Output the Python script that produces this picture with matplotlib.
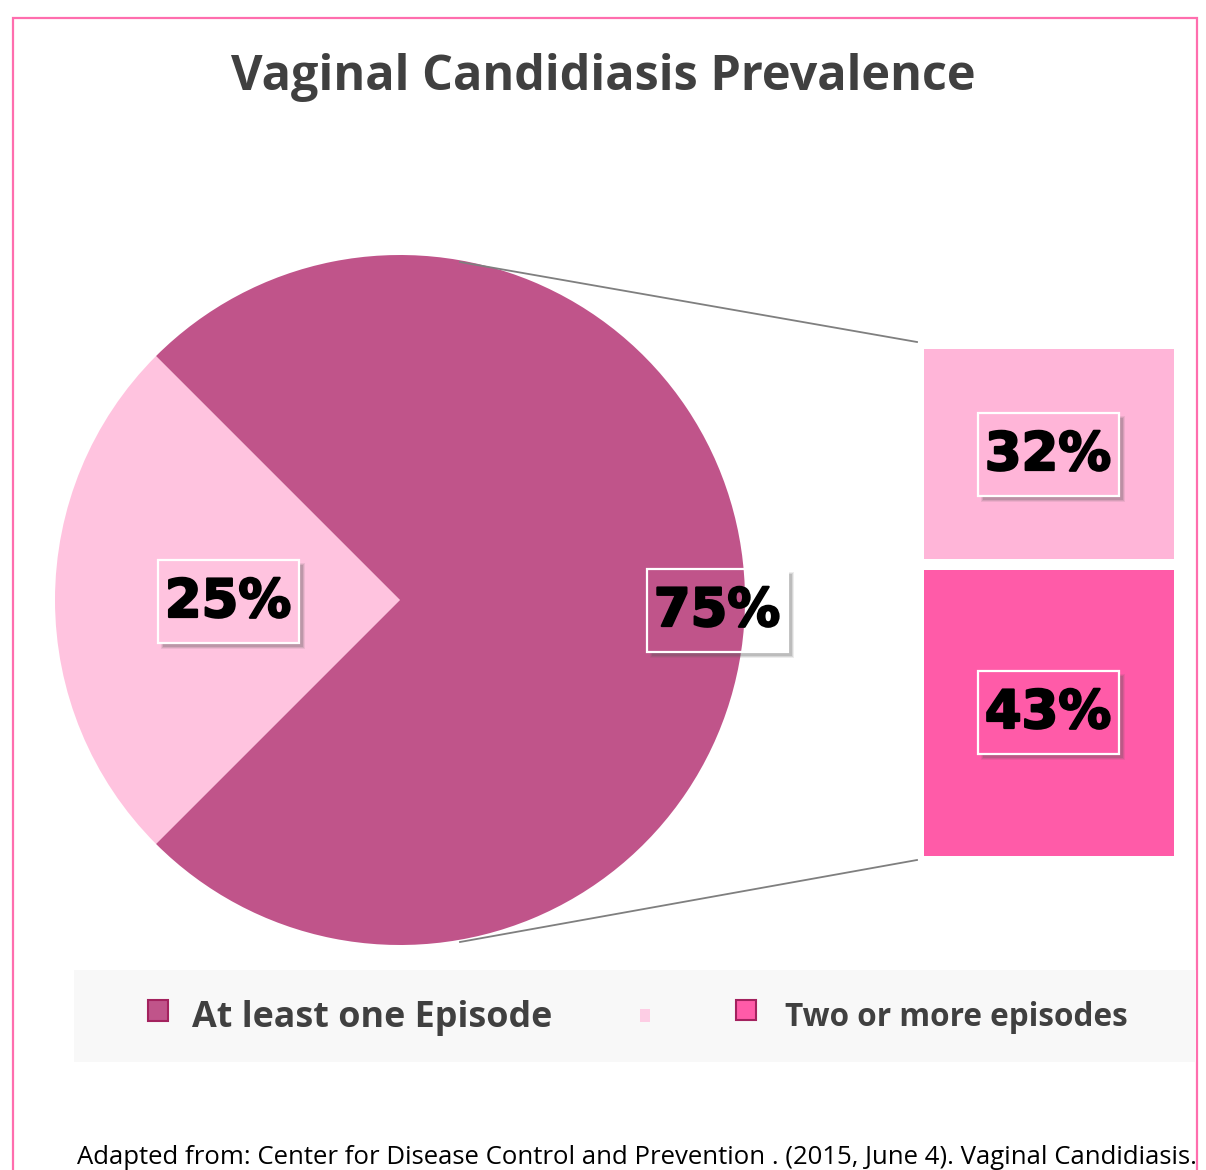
import matplotlib.pyplot as plt
from matplotlib.patches import Rectangle, Wedge
from matplotlib.lines import Line2D
import matplotlib.patheffects as pe

# data
pie_labels = ['Two or more episodes', 'At least one Episode']
pie_values = [25, 75]
bar_labels = ['Two or more episodes (top)', 'Two or more episodes (bottom)']
bar_values = [43, 32]   # bottom segment first
pie_colors = ['#FFC3DF', '#C0548A']
bar_colors = ['#FF5BA8', '#FFB5D8']
title = 'Vaginal Candidiasis Prevalence'
source = 'Adapted from: Center for Disease Control and Prevention . (2015, June 4). Vaginal Candidiasis.'

W, H = 1206, 1170
fig = plt.figure(figsize=(W / 100, H / 100), dpi=100)


def fx(x):
    return x / W


def fy(y):
    return 1 - y / H


# pink border
fig.patches.append(Rectangle((fx(13), fy(1200)), fx(1197) - fx(13), fy(18) - fy(1200),
                             transform=fig.transFigure, fill=False, ec='#FF6EAE', lw=1.6))

fig.text(0.5, fy(78), title, ha='center', va='center', fontsize=35,
         fontweight='bold', color='#404040', family='Open Sans')

# pie
R = 345
pax = fig.add_axes([fx(400 - R), fy(600 + R), 2 * R / W, 2 * R / H])
wedges, _ = pax.pie(pie_values, colors=pie_colors, startangle=135, radius=1)
pax.set_xlim(-1, 1)
pax.set_ylim(-1, 1)
pax.set_aspect('auto')
pax.axis('off')

# bar of pie
gap = 11
bax = fig.add_axes([fx(923 - gap / 2), fy(855 + gap / 2), (250 + gap) / W, (507 + gap) / H])
bottoms = [0, bar_values[0]]
bars = bax.bar([0, 0], bar_values, bottom=bottoms, width=1, color=bar_colors,
               edgecolor='white', linewidth=gap * 0.72)
bax.set_xlim(-0.5, 0.5)
bax.set_ylim(0, sum(bar_values))
bax.axis('off')

# connector lines
for py, by in [(262, 342), (942, 860)]:
    fig.add_artist(Line2D([fx(460), fx(917)], [fy(py), fy(by)], transform=fig.transFigure,
                          color='#7F7F7F', lw=1.3))


def label_box(cx, cy, text, fill, redraw=None):
    # cx, cy in pixels from top-left
    bw, bh = 141, 83
    x0, y0 = cx - bw / 2, cy + bh / 2
    for k, a in [(7, 0.10), (5, 0.15), (3, 0.2)]:
        fig.patches.append(Rectangle((fx(x0 + 7 - k / 2), fy(y0 + 6 + k / 2 - 3)),
                                     (bw + k - 4) / W, (bh + k - 4) / H,
                                     transform=fig.transFigure, fc='#555555', ec='none',
                                     alpha=a, zorder=5))
    box = Rectangle((fx(x0), fy(y0)), bw / W, bh / H, transform=fig.transFigure,
                    fc=fill, ec='none', zorder=6)
    fig.patches.append(box)
    if redraw is not None:
        for w in redraw:
            c = Wedge(w.center, w.r, w.theta1, w.theta2, fc=w.get_facecolor(), ec='none',
                      transform=pax.transData, zorder=6.5)
            fig.patches.append(c)
            c.set_clip_path(box)
    fig.patches.append(Rectangle((fx(x0), fy(y0)), bw / W, bh / H, transform=fig.transFigure,
                                 fill=False, ec='white', lw=1.6, zorder=7))
    fig.text(fx(cx), fy(cy + 1), text, ha='center', va='center', fontsize=38,
             fontweight='bold', family='DejaVu Sans', color='black', zorder=8,
             path_effects=[pe.withStroke(linewidth=1.6, foreground='black')])


# pie labels
label_box(228, 601, f'{pie_values[0]}%', pie_colors[0])
label_box(717, 610, f'{pie_values[1]}%', 'white', redraw=wedges)
# bar labels
label_box(1048, 454, f'{bar_values[1]}%', bar_colors[1])
label_box(1048, 712, f'{bar_values[0]}%', bar_colors[0])

# legend band
fig.patches.append(Rectangle((fx(74), fy(1062)), (1196 - 74) / W, 92 / H,
                             transform=fig.transFigure, fc='#F8F8F8', ec='none'))
fig.patches.append(Rectangle((fx(148), fy(1021)), 20 / W, 21 / H, transform=fig.transFigure,
                             fc=pie_colors[1], ec='#A3225E', lw=1.5))
fig.text(fx(192), fy(1018), pie_labels[1], ha='left', va='center', fontsize=25.8,
         fontweight='bold', color='#404040', family='Open Sans')
fig.patches.append(Rectangle((fx(640), fy(1022)), 10 / W, 13 / H, transform=fig.transFigure,
                             fc='#FFC3DF', ec='none', alpha=0.8))
fig.patches.append(Rectangle((fx(736), fy(1020)), 20 / W, 20 / H, transform=fig.transFigure,
                             fc=bar_colors[0], ec='#A3225E', lw=1.5))
fig.text(fx(785), fy(1017), pie_labels[0], ha='left', va='center', fontsize=22.7,
         fontweight='bold', color='#404040', family='Open Sans')

fig.text(fx(77), fy(1158), source, ha='left', va='center', fontsize=18.5, color='black',
         family='Open Sans')

fig.savefig('out.png', dpi=100)
